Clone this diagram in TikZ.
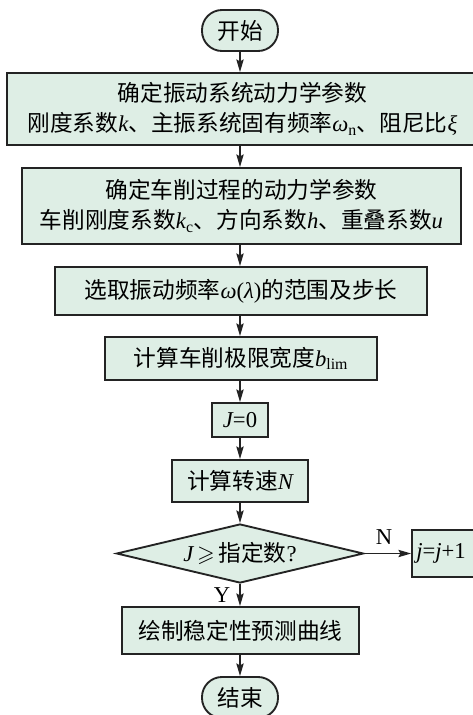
\documentclass[tikz,border=0pt]{standalone}
\usepackage{fontspec}
\usepackage{amssymb}
\setmainfont{Noto Sans CJK SC}
\newfontfamily\lat{Liberation Serif}
\usetikzlibrary{arrows.meta,shapes.geometric}
\definecolor{boxfill}{RGB}{222,238,229}
\definecolor{edgecol}{RGB}{35,35,35}
\newcommand{\vi}[1]{{\lat\itshape #1}}
\newcommand{\vr}[1]{{\lat #1}}
\newcommand{\subl}[1]{\textsubscript{\lat #1}}
\tikzset{
  box/.style={draw=edgecol, fill=boxfill, line width=1.4pt, inner sep=0pt, align=center},
  term/.style={box, rounded corners=15pt},
  arr/.style={draw=edgecol, line width=0.9pt, -{Stealth[length=9.5pt,width=5.5pt,inset=1.5pt]}},
  lbl/.style={font=\fontsize{17}{20}\lat, inner sep=0pt}
}
\begin{document}
\begin{tikzpicture}[x=0.75pt,y=-0.75pt, every node/.append style={font=\fontsize{17}{22.5}\selectfont}]
\useasboundingbox (0,0) rectangle (473,715);
\fill[white] (0,0) rectangle (473,715);

\node[term, minimum width=57pt, minimum height=30.75pt] (start) at (240,30.5) {开始};
\node[box, minimum width=353.25pt, minimum height=54pt] (b1) at (242.5,109)
  {确定振动系统动力学参数\\刚度系数\vi{k}、主振系统固有频率\vi{ω}\subl{n}、阻尼比\vi{ξ}};
\node[box, minimum width=329.25pt, minimum height=57pt] (b2) at (241.5,206)
  {确定车削过程的动力学参数\\车削刚度系数\vi{k}\subl{c}、方向系数\vi{h}、重叠系数\vi{u}};
\node[box, minimum width=279pt, minimum height=36pt] (b3) at (241,291)
  {选取振动频率\vi{ω}\vr{(}\vi{λ}\vr{)}的范围及步长};
\node[box, minimum width=204pt, minimum height=32.25pt] (b4) at (241,358.5)
  {计算车削极限宽度\vi{b}\subl{lim}};
\node[box, minimum width=42pt, minimum height=25.5pt] (j0) at (240,420)
  {\vi{J}\vr{=0}};
\node[box, minimum width=102pt, minimum height=31.5pt] (bn) at (240,481)
  {计算转速\vi{N}};
\node[diamond, box, minimum width=185.25pt, minimum height=44.25pt] (dia) at (240,553.5) {};
\node[inner sep=0pt] (diatext) at (dia) {\vi{J}\,$\geqslant$\,指定数\vr{?}};
\node[box, minimum width=54.75pt, minimum height=35.25pt] (jj) at (448.5,553.5) {};
\node[inner sep=0pt] (jjtext) at (441,553.5) {\vi{j}\vr{=}\vi{j}\vr{+1}};
\node[box, minimum width=177.75pt, minimum height=35.25pt] (draw) at (240.5,630.5)
  {绘制稳定性预测曲线};
\node[term, minimum width=57pt, minimum height=30.75pt] (end) at (240,697.5) {结束};

\node[lbl] (nl) at (384,537) {N};
\node[lbl] (yl) at (222,595) {Y};

\draw[arr] (start.south) -- (start.south |- b1.north);
\draw[arr] (start.south |- b1.south) -- (start.south |- b2.north);
\draw[arr] (start.south |- b2.south) -- (start.south |- b3.north);
\draw[arr] (start.south |- b3.south) -- (start.south |- b4.north);
\draw[arr] (start.south |- b4.south) -- (j0.north);
\draw[arr] (j0.south) -- (bn.north);
\draw[arr] (bn.south) -- (dia.north);
\draw[arr] (dia.east) -- (jj.west);
\draw[arr] (dia.south) -- (dia.south |- draw.north);
\draw[arr] (dia.south |- draw.south) -- (end.north);
\end{tikzpicture}
\end{document}
